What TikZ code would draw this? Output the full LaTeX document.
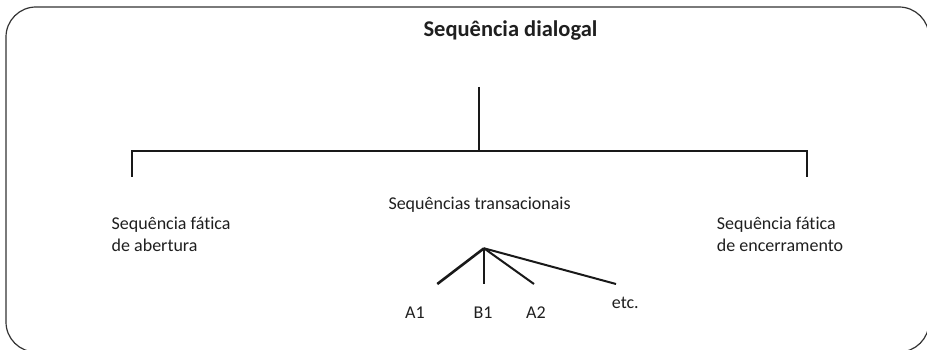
\documentclass[tikz,border=0pt]{standalone}
\usepackage{fontspec}
\setmainfont[Ligatures=NoCommon]{Carlito}
\begin{document}
\begin{tikzpicture}[x=1pt,y=-1pt,
  frame/.style={draw=black!80,line width=1.2pt,rounded corners=30pt},
  bar/.style={draw=black!90,line width=2.8pt},
  fan/.style={draw=black!90,line width=2.6pt},
  thinfan/.style={draw=black!90,line width=2pt},
  lbl/.style={font=\fontsize{18}{22.4}\selectfont,inner sep=0pt,text=black!88},
  ttl/.style={font=\fontsize{22.5}{26}\selectfont\bfseries,inner sep=0pt,text=black!88}]
\useasboundingbox (0,0) rectangle (927,350);
\draw[frame] (6,7) rectangle (929,352);
\node[ttl,anchor=base] (title) at (510.5,36.7) {Sequência dialogal};
\coordinate (stemtop) at (479,87);
\coordinate (junc) at (479,151);
\coordinate (lc) at (132,151);
\coordinate (rc) at (807,151);
\coordinate (ld) at (132,176);
\coordinate (rd) at (807,176);
\draw[bar] (stemtop) -- (junc);
\draw[bar,line cap=rect] (ld) -- (lc) -- (rc) -- (rd);
\node[lbl,anchor=base west,align=left] (left) at (111.5,251.7) {Sequência fática\\de abertura};
\node[lbl,anchor=base west] (mid) at (388.3,210) {Sequências transacionais};
\node[lbl,anchor=base west,align=left] (right) at (716.7,251.7) {Sequência fática\\de encerramento};
\coordinate (apex) at (484,248.3);
\coordinate (ea1) at (437.3,284);
\coordinate (eb1) at (484,284);
\coordinate (ea2) at (534,284);
\coordinate (eetc) at (616,284);
\draw[fan] (apex) -- (ea1);
\draw[fan] (apex) -- (eb1);
\draw[thinfan] (apex) -- (ea2);
\draw[thinfan] (apex) -- (eetc);
\node[lbl,anchor=base west] (a1) at (405,318.3) {A1};
\node[lbl,anchor=base west] (b1) at (473.3,318.3) {B1};
\node[lbl,anchor=base west] (a2) at (526,318.3) {A2};
\node[lbl,anchor=base west] (etc) at (611.7,308.3) {etc.};
\end{tikzpicture}
\end{document}
